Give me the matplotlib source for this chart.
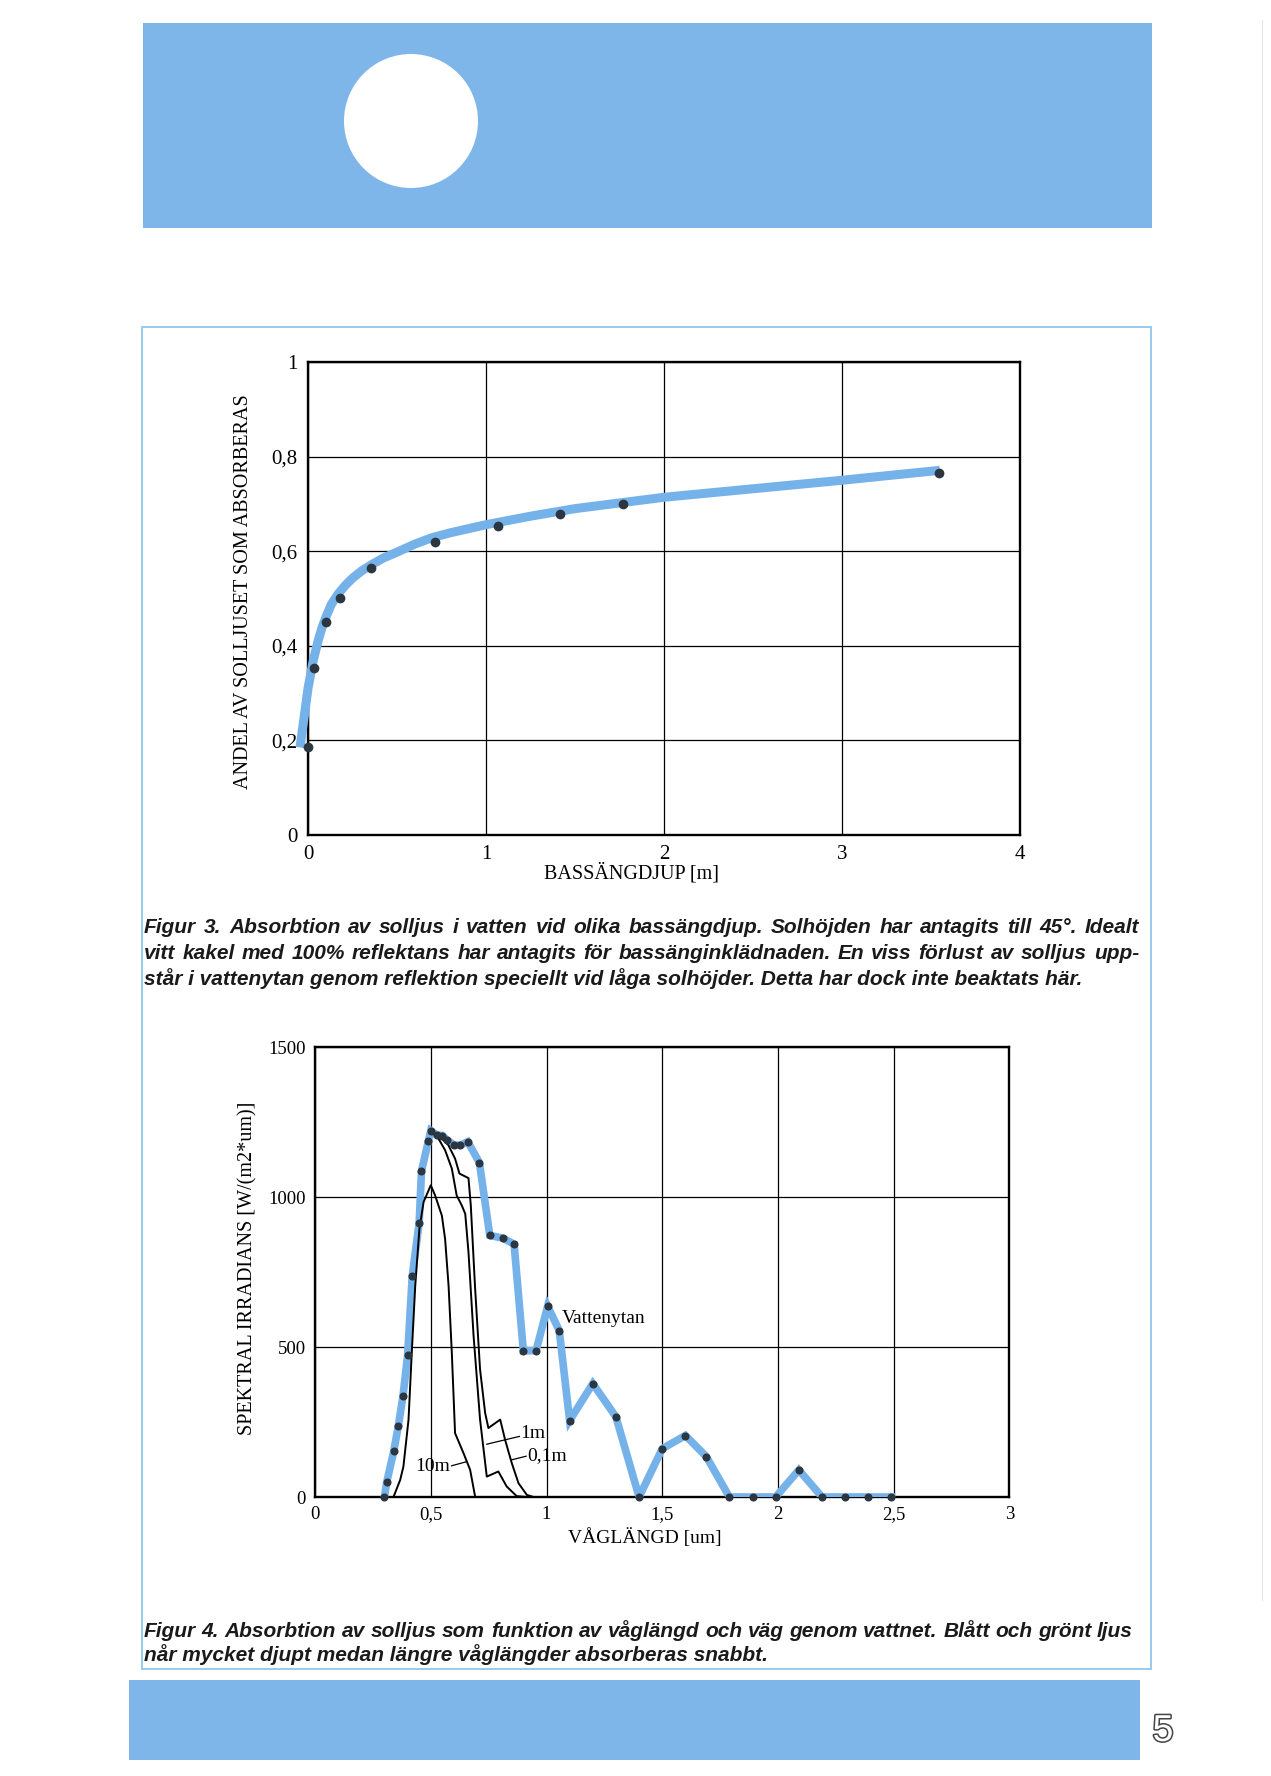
import matplotlib
matplotlib.use('Agg')
import matplotlib.pyplot as plt
from matplotlib.patches import Rectangle, Circle
import matplotlib.patheffects as pe

W, H = 1271, 1776

# Figur 3: absorbed fraction vs pool depth
depth_pts = [0.0, 0.032, 0.10, 0.178, 0.356, 0.713, 1.066, 1.415, 1.768, 3.547]
absorb_pts = [0.185, 0.354, 0.45, 0.501, 0.565, 0.62, 0.653, 0.678, 0.699, 0.766]
depth_curve = [-0.045, -0.025, 0.0, 0.03, 0.06, 0.08, 0.10, 0.13, 0.17, 0.21, 0.25,
               0.30, 0.35, 0.42, 0.50, 0.60, 0.70, 0.80, 1.00, 1.25, 1.50, 2.00,
               2.50, 3.00, 3.55]
absorb_curve = [0.185, 0.24, 0.31, 0.37, 0.415, 0.44, 0.46, 0.487, 0.51, 0.528, 0.543,
                0.558, 0.57, 0.585, 0.598, 0.615, 0.629, 0.639, 0.656, 0.674, 0.690,
                0.714, 0.732, 0.750, 0.771]
depth_ticks = [0, 1, 2, 3, 4]
depth_labels = ['0', '1', '2', '3', '4']
frac_ticks = [0, 0.2, 0.4, 0.6, 0.8, 1.0]
frac_labels = ['0', '0,2', '0,4', '0,6', '0,8', '1']

# Figur 4: spectral irradiance at the surface and at depth
wl = [0.30, 0.31, 0.34, 0.36, 0.38, 0.40, 0.42, 0.45, 0.46, 0.49, 0.50, 0.525,
      0.55, 0.57, 0.60, 0.625, 0.66, 0.71, 0.755, 0.81, 0.86, 0.90, 0.955, 1.005,
      1.055, 1.10, 1.20, 1.30, 1.40, 1.50, 1.60, 1.69, 1.79, 1.89, 1.99, 2.09,
      2.19, 2.29, 2.39, 2.49]
irr_surface = [0, 50, 152, 237, 336, 472, 736, 914, 1086, 1188, 1221, 1207,
               1205, 1190, 1174, 1172, 1184, 1115, 872, 863, 843, 487, 488, 636,
               555, 255, 378, 267, 0, 161, 205, 135, 0, 0, 0, 90,
               0, 0, 0, 0]
wl_01m = [0.502, 0.541, 0.576, 0.605, 0.624, 0.663, 0.673, 0.691, 0.713, 0.735,
          0.749, 0.800, 0.821, 0.850, 0.879, 0.915, 0.944]
irr_01m = [1217, 1201, 1173, 1128, 1078, 1063, 972, 704, 425, 280,
           230, 258, 191, 113, 46, 7, 0]
wl_1m = [0.502, 0.533, 0.562, 0.591, 0.612, 0.634, 0.649, 0.663, 0.685, 0.713,
         0.742, 0.792, 0.828, 0.871, 0.915]
irr_1m = [1217, 1195, 1156, 1095, 1005, 972, 944, 816, 537, 258,
          68, 85, 35, 3, 0]
wl_10m = [0.339, 0.368, 0.382, 0.404, 0.418, 0.433, 0.451, 0.469, 0.500, 0.519,
          0.548, 0.562, 0.577, 0.591, 0.605, 0.641, 0.670, 0.692]
irr_10m = [0, 57, 102, 258, 481, 704, 894, 983, 1039, 1005,
           938, 860, 704, 481, 213, 147, 91, 0]
wl_ticks = [0, 0.5, 1, 1.5, 2, 2.5, 3]
wl_labels = ['0', '0,5', '1', '1,5', '2', '2,5', '3']
irr_ticks = [0, 500, 1000, 1500]
irr_labels = ['0', '500', '1000', '1500']

caption3 = ['Figur 3. Absorbtion av solljus i vatten vid olika bassängdjup. Solhöjden har antagits till 45°. Idealt',
            'vitt kakel med 100% reflektans har antagits för bassänginklädnaden. En viss förlust av solljus upp-',
            'står i vattenytan genom reflektion speciellt vid låga solhöjder. Detta har dock inte beaktats här.']
caption4 = ['Figur 4. Absorbtion av solljus som funktion av våglängd och väg genom vattnet. Blått och grönt ljus',
            'når mycket djupt medan längre våglängder absorberas snabbt.']

BAND = '#7fb6ea'
LINE = '#76b2ea'
DOT = '#2b3640'
SERIF = ['Liberation Serif', 'DejaVu Serif']
CAPFONT = ['Liberation Sans Narrow', 'Liberation Sans', 'DejaVu Sans']
CAPSTYLE = dict(fontsize=15, fontweight='bold', fontstyle='italic', family=CAPFONT,
                va='center', ha='left', color='#1a1a1a')


def px_rect(x0, y0, x1, y1):
    return [x0 / W, 1 - y1 / H, (x1 - x0) / W, (y1 - y0) / H]


def style_axes(ax, size, pad):
    ax.grid(True, color='black', lw=0.9)
    ax.set_axisbelow(True)
    for s in ax.spines.values():
        s.set_linewidth(1.7)
    ax.tick_params(length=0, pad=pad, labelsize=size)
    for lab in ax.get_xticklabels() + ax.get_yticklabels():
        lab.set_fontfamily(SERIF)


def caption_line(ax, x0, x1, y, line, justify):
    if not justify:
        ax.text(x0, y, line, **CAPSTYLE)
        return
    # spread the words so the line ends at x1, like the printed page
    r = fig.canvas.get_renderer()
    words = line.split(' ')
    texts = [ax.text(0, y, w, **CAPSTYLE) for w in words]
    widths = [t.get_window_extent(r).width for t in texts]
    gap = (x1 - x0 - sum(widths)) / (len(words) - 1)
    x = x0
    for t, w in zip(texts, widths):
        t.set_x(x)
        x += w + gap


fig = plt.figure(figsize=(W / 100, H / 100), dpi=100)

# page decoration in pixel coordinates
bg = fig.add_axes([0, 0, 1, 1])
bg.set_xlim(0, W)
bg.set_ylim(H, 0)
bg.axis('off')
bg.add_patch(Rectangle((143, 23), 1009, 205, color=BAND, lw=0))
bg.add_patch(Circle((411, 121), 67, color='white', lw=0))
bg.add_patch(Rectangle((142, 327), 1009, 1342, fill=False, ec='#8fc6ec', lw=1.3))
bg.add_patch(Rectangle((129, 1680), 1011, 80, color=BAND, lw=0))
bg.plot([1262, 1262], [20, 1600], color='#e8e8e8', lw=0.8)
for i, line in enumerate(caption3):
    caption_line(bg, 144, 1139, 927 + i * 26, line, i < 2)
for i, line in enumerate(caption4):
    caption_line(bg, 144, 1133, 1631 + i * 24, line, i < 1)
bg.text(1163, 1731, '5', fontsize=27, family=['Liberation Sans', 'DejaVu Sans'],
        color='white', ha='center', va='center',
        path_effects=[pe.Stroke(linewidth=2.2, foreground='#444444'), pe.Normal()])

# Figur 3
ax1 = fig.add_axes(px_rect(308, 362, 1020, 835))
ax1.plot(depth_curve, absorb_curve, color=LINE, lw=6.5, solid_capstyle='butt',
         solid_joinstyle='round', clip_on=False, zorder=3)
ax1.plot(depth_pts, absorb_pts, 'o', color=DOT, ms=6, clip_on=False, zorder=4)
ax1.set_xlim(0, 4)
ax1.set_ylim(0, 1)
ax1.set_xticks(depth_ticks, depth_labels)
ax1.set_yticks(frac_ticks, frac_labels)
style_axes(ax1, 15, 7.5)
ax1.set_xlabel('BASSÄNGDJUP [m]', fontsize=14.5, family=SERIF)
ax1.set_ylabel('ANDEL AV SOLLJUSET SOM ABSORBERAS', fontsize=14.5, family=SERIF)
ax1.xaxis.label.set_va('center')
ax1.yaxis.label.set_va('center')
ax1.xaxis.set_label_coords(0.455, -0.080)
ax1.yaxis.set_label_coords(-0.091, 0.514)

# Figur 4
ax2 = fig.add_axes(px_rect(315, 1047, 1009.5, 1497))
ax2.plot(wl, irr_surface, color=LINE, lw=5.5, solid_joinstyle='miter', zorder=3)
ax2.plot(wl_01m, irr_01m, color='black', lw=1.4, zorder=4)
ax2.plot(wl_1m, irr_1m, color='black', lw=1.4, zorder=4)
ax2.plot(wl_10m, irr_10m, color='black', lw=1.4, zorder=4)
ax2.plot(wl, irr_surface, 'o', color=DOT, ms=4.8, zorder=5, clip_on=False)
ax2.set_xlim(0, 3)
ax2.set_ylim(0, 1500)
ax2.set_xticks(wl_ticks, wl_labels)
ax2.set_yticks(irr_ticks, irr_labels)
style_axes(ax2, 13.5, 6.5)
ax2.set_xlabel('VÅGLÄNGD [um]', fontsize=14, family=SERIF)
ax2.set_ylabel('SPEKTRAL IRRADIANS [W/(m2*um)]', fontsize=14.5, family=SERIF)
ax2.xaxis.label.set_va('center')
ax2.yaxis.label.set_va('center')
ax2.xaxis.set_label_coords(0.475, -0.091)
ax2.yaxis.set_label_coords(-0.0965, 0.509)

ax2.text(1.066, 596, 'Vattenytan', fontsize=14, family=SERIF, va='center', ha='left')
ax2.text(0.887, 213, '1m', fontsize=14, family=SERIF, va='center', ha='left')
ax2.plot([0.883, 0.742], [202, 176], color='black', lw=0.9)
ax2.text(0.915, 139, '0,1m', fontsize=14, family=SERIF, va='center', ha='left')
ax2.plot([0.912, 0.850], [136, 124], color='black', lw=0.9)
ax2.text(0.584, 102, '10m', fontsize=14, family=SERIF, va='center', ha='right')
ax2.plot([0.590, 0.656], [104, 118], color='black', lw=0.9)

fig.savefig('out.png', dpi=100)
